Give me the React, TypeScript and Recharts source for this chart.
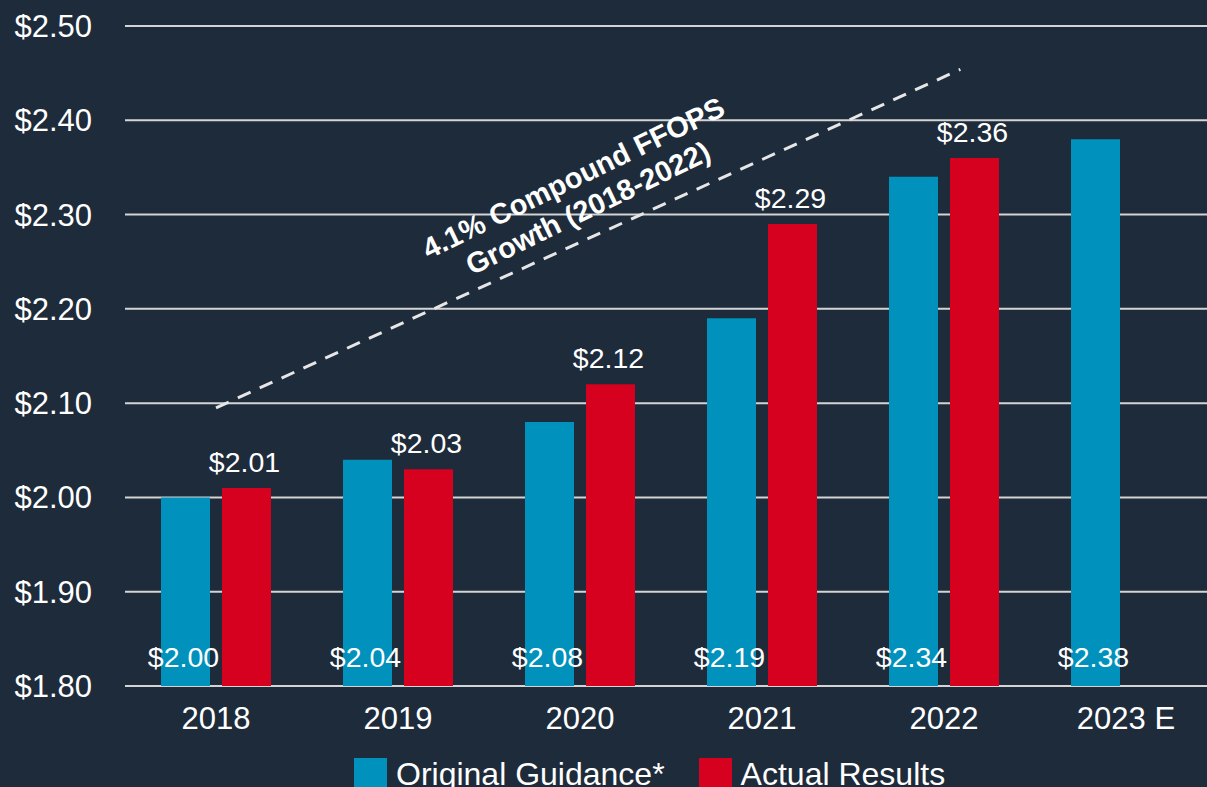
import React from "react"
import { BarChart, Bar, XAxis, YAxis, CartesianGrid, Legend, LabelList, ReferenceLine } from "recharts"

const years = ["2018", "2019", "2020", "2021", "2022", "2023 E"]
const guidance = [2.0, 2.04, 2.08, 2.19, 2.34, 2.38]
const actual: (number | null)[] = [2.01, 2.03, 2.12, 2.29, 2.36, null]
const yTicks = [1.8, 1.9, 2.0, 2.1, 2.2, 2.3, 2.4, 2.5]
const seriesNames = ["Original Guidance*", "Actual Results"]
// trend line endpoints: x in category units (0..6), y in $
const trendStart = { x: 0.5, y: 2.095 }
const trendEnd = { x: 4.59, y: 2.454 }
const trendText = ["4.1% Compound FFOPS", "Growth (2018-2022)"]

const BG = "#1e2b3a"
const BLUE = "#0091bd"
const RED = "#d6001f"
const FONT = '"Liberation Sans", Arial, sans-serif'

const data = years.map((year, i) => ({
  year,
  guidance: guidance[i],
  actual: actual[i],
}))

const fmt = (v: number) => `$${v.toFixed(2)}`

const renderBottomLabel = (p: any) => {
  const { x, y, width, height, value } = p
  if (value == null) return null
  return (
    <text
      x={x + width / 2 - 2}
      y={y + height - 29}
      textAnchor="middle"
      dominantBaseline="central"
      fill="#fff"
      fontSize={28.5}
      fontFamily={FONT}
    >
      {fmt(value)}
    </text>
  )
}

const renderTopLabel = (p: any) => {
  const { x, y, width, value } = p
  if (value == null) return null
  return (
    <text
      x={x + width / 2 - 2}
      y={y - 26}
      textAnchor="middle"
      dominantBaseline="central"
      fill="#fff"
      fontSize={28.5}
      fontFamily={FONT}
    >
      {fmt(value)}
    </text>
  )
}

function TrendLabel(props: any) {
  const vb = props.viewBox
  if (!vb) return null
  const cx = vb.x + vb.width / 2
  const cy = vb.y + vb.height / 2
  const ang = Math.atan2(vb.height, vb.width)
  const ux = Math.cos(ang)
  const uy = -Math.sin(ang)
  const nx = -Math.sin(ang)
  const ny = -Math.cos(ang)
  // block sits a bit above the line, slightly right of its middle
  const bx = cx + ux * 12 + nx * 45
  const by = cy + uy * 12 + ny * 45
  const deg = (-ang * 180) / Math.PI - 1.5
  return (
    <text
      transform={`translate(${bx},${by}) rotate(${deg})`}
      textAnchor="middle"
      fill="#fff"
      fontWeight="bold"
      fontSize={29}
      fontFamily={FONT}
    >
      <tspan x={0} y={-6.5}>{trendText[0]}</tspan>
      <tspan x={0} y={27}>{trendText[1]}</tspan>
    </text>
  )
}

const renderLegend = () => (
  <div
    style={{
      height: 64,
      paddingTop: 22,
      paddingLeft: 354,
      boxSizing: "border-box",
      display: "flex",
      alignItems: "flex-start",
      fontFamily: FONT,
      fontSize: 32,
      color: "#fff",
      lineHeight: "33px",
    }}
  >
    <span style={{ width: 33, height: 33, background: BLUE, marginRight: 9 }} />
    <span style={{ marginRight: 34 }}>{seriesNames[0]}</span>
    <span style={{ width: 33, height: 33, background: RED, marginRight: 9 }} />
    <span>{seriesNames[1]}</span>
  </div>
)

export default function App() {
  return (
    <div style={{ width: 1207, height: 787, overflow: "hidden", background: BG }}>
      <style>{`body{margin:0;background:${BG};overflow:hidden}`}</style>
      <BarChart
        width={1230}
        height={800}
        data={data}
        margin={{ top: 26, right: 13, left: 0, bottom: 0 }}
        barSize={49}
        barGap={12}
      >
        <CartesianGrid vertical={false} stroke="#d4d4d4" strokeWidth={2} />
        <XAxis
          dataKey="year"
          axisLine={false}
          tickLine={false}
          tickSize={0}
          tickMargin={21}
          height={50}
          tick={{ fill: "#fff", fontSize: 31, fontFamily: FONT }}
        />
        <XAxis
          xAxisId="n"
          dataKey="pos"
          type="number"
          scale="linear"
          domain={[0, 6]}
          allowDataOverflow
          hide
        />
        <YAxis
          domain={[1.8, 2.5]}
          ticks={yTicks}
          width={125}
          axisLine={false}
          tickLine={false}
          tickSize={0}
          tickMargin={33}
          tickFormatter={fmt}
          tick={{ fill: "#fff", fontSize: 31, fontFamily: FONT }}
        />
        <Legend verticalAlign="bottom" align="left" content={renderLegend} />
        <Bar dataKey="guidance" name={seriesNames[0]} fill={BLUE} isAnimationActive={false}>
          <LabelList dataKey="guidance" content={renderBottomLabel} />
        </Bar>
        <Bar dataKey="actual" name={seriesNames[1]} fill={RED} isAnimationActive={false}>
          <LabelList dataKey="actual" content={renderTopLabel} />
        </Bar>
        <ReferenceLine
          xAxisId="n"
          segment={[trendStart, trendEnd]}
          stroke="#e6e6e6"
          strokeWidth={3}
          strokeDasharray="14 10"
          label={<TrendLabel />}
        />
      </BarChart>
    </div>
  )
}
